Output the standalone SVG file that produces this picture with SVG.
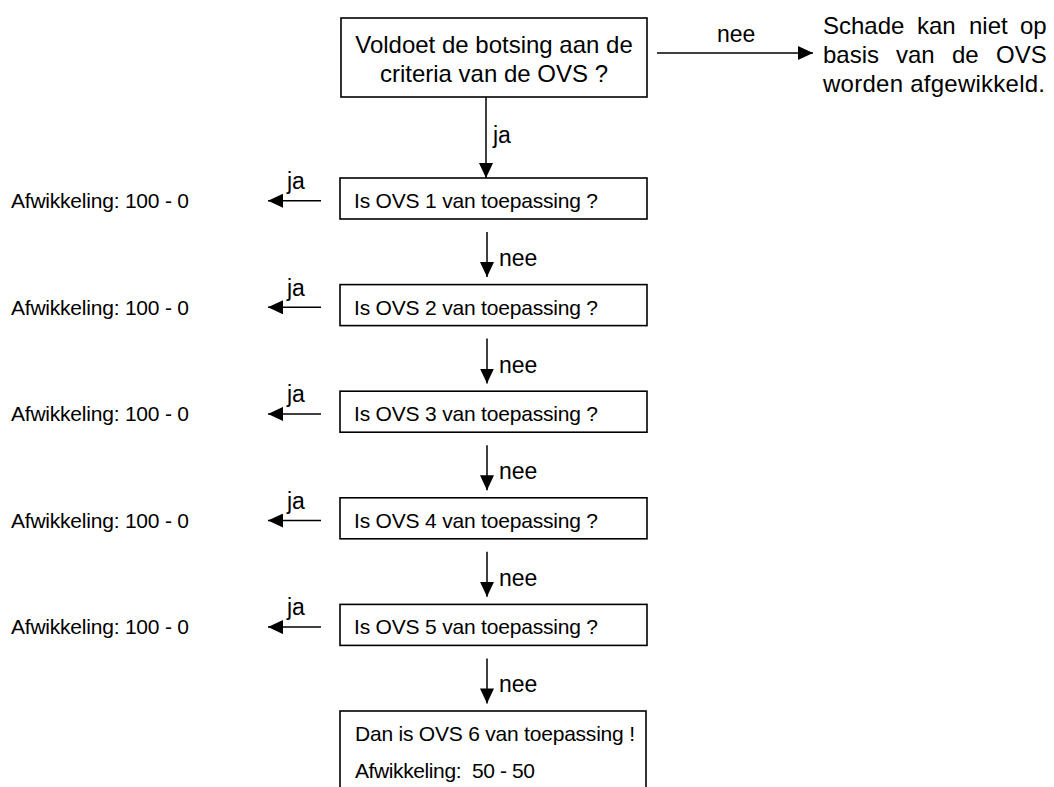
<svg xmlns="http://www.w3.org/2000/svg" width="1054" height="787" viewBox="0 0 1054 787">
<style>
text{font-family:"Liberation Sans",Arial,sans-serif;fill:#000}
.t24{font-size:24px}
.t21{font-size:21px}
.lbl{font-size:23px}
.box{fill:#fff;stroke:#000;stroke-width:1.6}
.ln{fill:none;stroke:#000;stroke-width:1.5}
</style>
<defs>
<marker id="ah" markerUnits="userSpaceOnUse" markerWidth="16" markerHeight="14" refX="15" refY="7" orient="auto">
<path d="M0,0 L15,7 L0,14 z" fill="#000"/>
</marker>
</defs>
<g id="connectors">
<path class="ln" d="M486,97 V178" marker-end="url(#ah)"/>
<path class="ln" d="M657,53 H813" marker-end="url(#ah)"/>
<path class="ln" d="M321,200.7 H268" marker-end="url(#ah)"/>
<path class="ln" d="M321,307.3 H268" marker-end="url(#ah)"/>
<path class="ln" d="M321,413.9 H268" marker-end="url(#ah)"/>
<path class="ln" d="M321,520.5 H268" marker-end="url(#ah)"/>
<path class="ln" d="M321,627.1 H268" marker-end="url(#ah)"/>
<path class="ln" d="M487,232 V277" marker-end="url(#ah)"/>
<path class="ln" d="M487,338.6 V383.6" marker-end="url(#ah)"/>
<path class="ln" d="M487,445.2 V490.2" marker-end="url(#ah)"/>
<path class="ln" d="M487,551.8 V596.8" marker-end="url(#ah)"/>
<path class="ln" d="M487,658.4 V703.4" marker-end="url(#ah)"/>
<text class="lbl" x="493" y="143">ja</text>
<text class="lbl" x="717" y="42">nee</text>
<text class="lbl" x="287" y="189">ja</text>
<text class="lbl" x="287" y="295.6">ja</text>
<text class="lbl" x="287" y="402.2">ja</text>
<text class="lbl" x="287" y="508.8">ja</text>
<text class="lbl" x="287" y="615.4">ja</text>
<text class="lbl" x="499" y="266">nee</text>
<text class="lbl" x="499" y="372.6">nee</text>
<text class="lbl" x="499" y="479.2">nee</text>
<text class="lbl" x="499" y="585.8">nee</text>
<text class="lbl" x="499" y="692.4">nee</text>
</g>
<g id="start">
<rect class="box" x="341" y="18" width="306" height="79"/>
<text class="t24" x="494" y="53" text-anchor="middle">Voldoet de botsing aan de</text>
<text class="t24" x="494" y="82" text-anchor="middle">criteria van de OVS ?</text>
</g>
<g id="no-ovs">
<text class="t24" y="34"><tspan x="823">Schade</tspan> <tspan x="917">kan</tspan> <tspan x="969">niet</tspan> <tspan x="1020">op</tspan></text>
<text class="t24" y="63"><tspan x="823">basis</tspan> <tspan x="896">van</tspan> <tspan x="952">de</tspan> <tspan x="996">OVS</tspan></text>
<text class="t24" x="823" y="92" textLength="222">worden afgewikkeld.</text>
</g>
<g id="ovs1">
<rect class="box" x="340" y="178" width="307" height="41"/>
<text class="t21" x="354" y="208" textLength="244">Is OVS 1 van toepassing ?</text>
</g>
<g id="res1"><text class="t21" x="11" y="208" textLength="178">Afwikkeling: 100 - 0</text></g>
<g id="ovs2">
<rect class="box" x="340" y="284.6" width="307" height="41"/>
<text class="t21" x="354" y="314.6" textLength="244">Is OVS 2 van toepassing ?</text>
</g>
<g id="res2"><text class="t21" x="11" y="314.6" textLength="178">Afwikkeling: 100 - 0</text></g>
<g id="ovs3">
<rect class="box" x="340" y="391.2" width="307" height="41"/>
<text class="t21" x="354" y="421.2" textLength="244">Is OVS 3 van toepassing ?</text>
</g>
<g id="res3"><text class="t21" x="11" y="421.2" textLength="178">Afwikkeling: 100 - 0</text></g>
<g id="ovs4">
<rect class="box" x="340" y="497.8" width="307" height="41"/>
<text class="t21" x="354" y="527.8" textLength="244">Is OVS 4 van toepassing ?</text>
</g>
<g id="res4"><text class="t21" x="11" y="527.8" textLength="178">Afwikkeling: 100 - 0</text></g>
<g id="ovs5">
<rect class="box" x="340" y="604.4" width="307" height="41"/>
<text class="t21" x="354" y="634.4" textLength="244">Is OVS 5 van toepassing ?</text>
</g>
<g id="res5"><text class="t21" x="11" y="634.4" textLength="178">Afwikkeling: 100 - 0</text></g>
<g id="ovs6">
<rect class="box" x="340" y="711" width="306" height="100"/>
<text class="t21" x="355" y="741" textLength="280">Dan is OVS 6 van toepassing !</text>
<text class="t21" x="355" y="778" xml:space="preserve" textLength="180">Afwikkeling:  50 - 50</text>
</g>
</svg>
